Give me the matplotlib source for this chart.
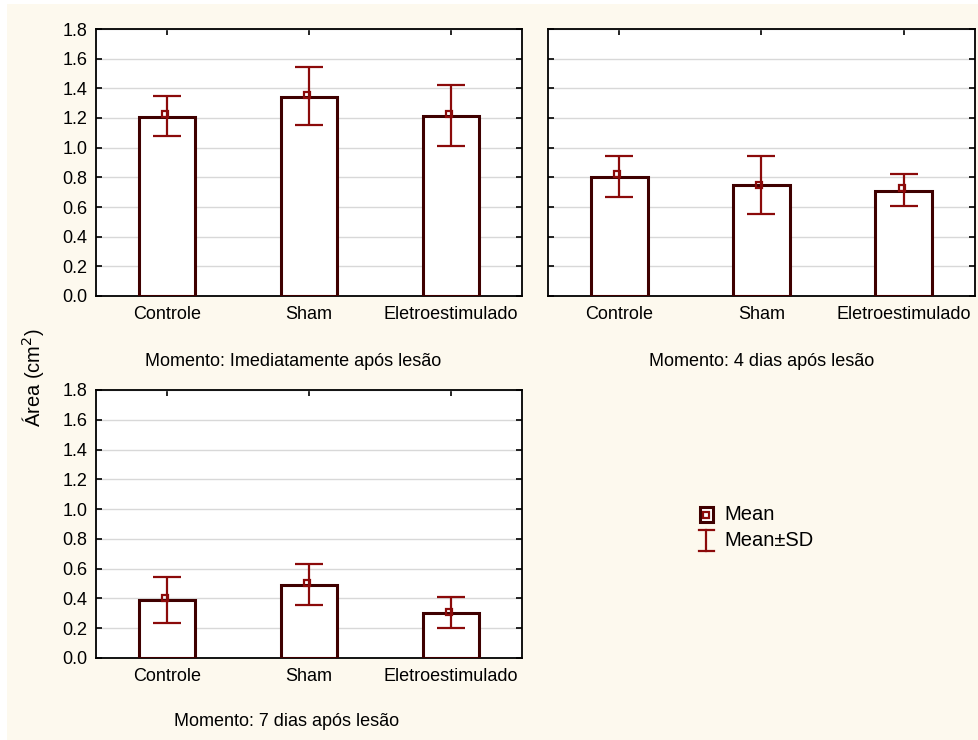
import numpy as np
import matplotlib
matplotlib.use('Agg')
from matplotlib import pyplot as plt
from matplotlib.patches import Rectangle
from matplotlib.lines import Line2D

plt.rcParams['font.family'] = ['Liberation Sans', 'DejaVu Sans']

groups = ['Controle', 'Sham', 'Eletroestimulado']
moments = ['Momento: Imediatamente após lesão',
           'Momento: 4 dias após lesão',
           'Momento: 7 dias após lesão']

# bar height, mean marker, lower and upper SD limits (per moment)
bar_imed = [1.207, 1.342, 1.214]
mean_imed = [1.227, 1.358, 1.225]
lo_imed = [1.079, 1.153, 1.011]
hi_imed = [1.349, 1.546, 1.423]

bar_4d = [0.802, 0.748, 0.710]
mean_4d = [0.823, 0.751, 0.726]
lo_4d = [0.667, 0.555, 0.605]
hi_4d = [0.946, 0.946, 0.823]

bar_7d = [0.390, 0.490, 0.300]
mean_7d = [0.403, 0.504, 0.307]
lo_7d = [0.235, 0.356, 0.204]
hi_7d = [0.544, 0.631, 0.410]

yticks = [0.0, 0.2, 0.4, 0.6, 0.8, 1.0, 1.2, 1.4, 1.6, 1.8]

BG = '#fdf9ee'
BAR_EDGE = '#3f0000'
ERR = '#8b0a0a'
FS = 13

W, H = 979, 740
fig = plt.figure(figsize=(W / 100, H / 100), dpi=100, facecolor='white')
fig.patches.append(Rectangle((7 / W, 0), 1, 1 - 4 / H, transform=fig.transFigure,
                             facecolor=BG, edgecolor='none', zorder=-10))


def fx(px):
    return px / W


def fy(py):
    return 1 - py / H


def px_axes(l, t, r, b):
    return fig.add_axes([l / W, 1 - b / H, (r - l) / W, (b - t) / H])


def panel(ax, bars, means, lo, hi, show_ylabels=True):
    x = np.arange(len(groups))
    ax.set_facecolor('white')
    ax.bar(x, bars, width=0.4, facecolor='white', edgecolor=BAR_EDGE, linewidth=2.2, zorder=3)
    means = np.array(means)
    ax.errorbar(x, means, yerr=[means - np.array(lo), np.array(hi) - means], fmt='none',
                ecolor=ERR, elinewidth=1.6, capsize=10, capthick=1.6, zorder=4)
    ax.plot(x - 0.015, means, 's', ms=5, mfc='none', mec=ERR, mew=1.6, zorder=5)
    ax.set_xlim(-0.5, 2.5)
    ax.set_ylim(0, 1.8)
    ax.set_yticks(yticks)
    ax.set_yticklabels([f'{v:.1f}' for v in yticks] if show_ylabels else [])
    ax.set_xticks(x)
    ax.set_xticklabels(groups)
    ax.grid(axis='y', color='#d8d8d8', linewidth=1.0, zorder=0)
    ax.tick_params(direction='in', length=4, width=1.2, top=True, right=True,
                   labelsize=FS, colors='black')
    ax.tick_params(axis='x', pad=7)
    ax.tick_params(axis='y', pad=6)
    for s in ax.spines.values():
        s.set_linewidth(1.3)
        s.set_color('black')


ax1 = px_axes(96, 29, 522, 296)
panel(ax1, bar_imed, mean_imed, lo_imed, hi_imed)
ax2 = px_axes(548, 29, 975, 296)
panel(ax2, bar_4d, mean_4d, lo_4d, hi_4d, show_ylabels=False)
ax3 = px_axes(96, 390, 522, 658)
panel(ax3, bar_7d, mean_7d, lo_7d, hi_7d)

fig.text(fx(293), fy(362), moments[0], ha='center', va='center', fontsize=FS)
fig.text(fx(762), fy(362), moments[1], ha='center', va='center', fontsize=FS)
fig.text(fx(287), fy(722), moments[2], ha='center', va='center', fontsize=FS)
fig.text(fx(33), fy(378), 'Área (cm$^2$)', rotation=90, ha='center', va='center',
         fontsize=14.5)

# legend, drawn by hand like the Statistica one
fig.patches.append(Rectangle((fx(700), fy(522)), 13 / W, 15 / H, transform=fig.transFigure,
                             facecolor='white', edgecolor=BAR_EDGE, linewidth=2.2))
fig.lines.append(Line2D([fx(706.5)], [fy(514.5)], transform=fig.transFigure, marker='s',
                        ms=5, mfc='none', mec=ERR, mew=1.6))
fig.lines.append(Line2D([fx(706.5)] * 2, [fy(530), fy(551)], transform=fig.transFigure,
                        color=ERR, lw=1.6))
for yy in (530, 551):
    fig.lines.append(Line2D([fx(699), fx(714)], [fy(yy)] * 2, transform=fig.transFigure,
                            color=ERR, lw=1.6))
fig.text(fx(724), fy(514.5), 'Mean', ha='left', va='center', fontsize=14.5)
fig.text(fx(724), fy(541), 'Mean±SD', ha='left', va='center', fontsize=14.5)

fig.savefig('out.png', dpi=100, facecolor='white')
